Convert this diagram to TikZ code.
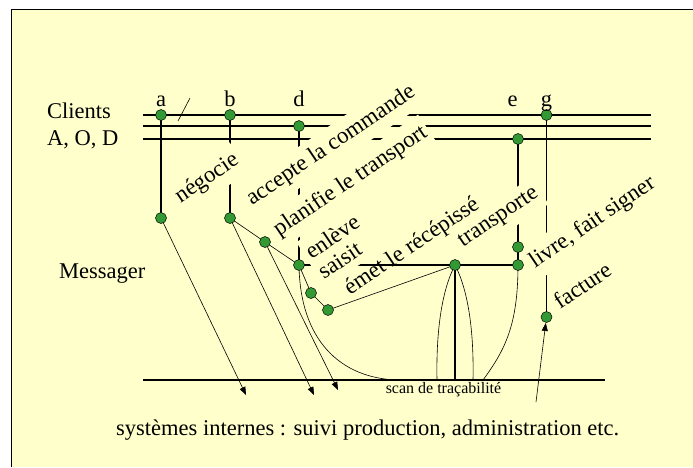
\documentclass[tikz,border=0pt]{standalone}
\usepackage{fontspec}
\setmainfont{Liberation Serif}
\usetikzlibrary{arrows.meta}
\definecolor{bgyellow}{HTML}{FFFFCC}
\definecolor{dotgreen}{HTML}{339933}
\tikzset{
    dot/.style={circle, draw=black, line width=0.5pt, fill=dotgreen, minimum size=11pt, inner sep=0pt},
    msg/.style={anchor=base west, rotate=34, inner xsep=3pt, inner ysep=7pt, font=\fontsize{23}{26}\selectfont},
    msgfill/.style={msg, fill=bgyellow},
    thickline/.style={line width=1.1pt},
    thinline/.style={line width=0.6pt},
}

\begin{document}
\begin{tikzpicture}[x=1pt, y=-1pt, font=\fontsize{22.5}{26}\selectfont, >={Triangle[length=8pt,width=6pt]}]
        \useasboundingbox (0,0) rectangle (693,467);
        %background and frame
        \fill[bgyellow] (11,9) rectangle (693,467);
        \draw[line width=1pt] (11,467) -- (11,9) -- (693,9);
        %points of the clients and of the messager
        \coordinate (ca) at (161,115);
        \coordinate (cb) at (230,115);
        \coordinate (cd) at (299,126);
        \coordinate (ce) at (518,139);
        \coordinate (cg) at (546.5,115);
        \coordinate (ma) at (161,218);
        \coordinate (mb) at (230,218);
        \coordinate (mplan) at (265,242);
        \coordinate (md) at (299,265);
        \coordinate (msaisit) at (311,293);
        \coordinate (memet) at (328,310);
        \coordinate (mhub) at (455,265);
        \coordinate (mtrans) at (518,247);
        \coordinate (mlivre) at (518,265);
        \coordinate (mfact) at (546.5,317);
        %free ends on the scan line
        \coordinate (sd) at (397,380);
        \coordinate (sl) at (437,380);
        \coordinate (sm) at (455,380);
        \coordinate (sr) at (473,380);
        \coordinate (se) at (483,380);
        \coordinate (ta) at (246,395);
        \coordinate (tb) at (314,395);
        \coordinate (tplan) at (338,390);
        \coordinate (tfact) at (536,402);
        %client lines
        \draw[thickline] (143,115) -- (651,115);
        \draw[thickline] (143,126) -- (651,126);
        \draw[thickline] (143,139) -- (651,139);
        \draw[thinline] (178,121) -- (190,98);
        %vertical lines
        \draw[thickline] (ca) -- (ma);
        \draw[thickline] (cb) -- (mb);
        \draw[thickline] (cd) -- (md);
        \draw[thickline] (ce) -- (mtrans) -- (mlivre);
        \draw[thickline] (cg) -- (mfact);
        \draw[thickline] (md) -- (mhub) -- (mlivre);
        %messager steps
        \draw[thinline] (mb) -- (mplan) -- (md) -- (msaisit) -- (memet) -- (mhub);
        %scan line
        \draw[thickline] (143,380) -- (605,380);
        \draw[thickline] (mhub) -- (sm);
        \draw[thinline] (md) .. controls (300,340) and (340,378) .. (sd);
        \draw[thinline] (mhub) .. controls (442,290) and (436,330) .. (sl);
        \draw[thinline] (mhub) .. controls (468,290) and (474,330) .. (sr);
        \draw[thinline] (mlivre) .. controls (518,325) and (505,350) .. (se);
        %arrows to the internal systems
        \draw[thinline, ->] (ma) -- (ta);
        \draw[thinline, ->] (mb) -- (tb);
        \draw[thinline, ->] (mplan) -- (tplan);
        \draw[thinline, ->, shorten >=6pt] (tfact) -- (mfact);
        %step labels
        \node[msgfill] (lneg) at (178,205) {négocie};
        \node[msgfill] (lacc) at (249.5,207.5) {accepte la commande};
        \node[msgfill] (lplan) at (276.5,238) {planifie le transport};
        \node[msgfill] (lenl) at (309,261.5) {enlève};
        \node[msgfill] (lsai) at (321.5,281.5) {saisit};
        \node[msg] (lemet) at (347.5,297) {émet le récépissé};
        \node[msgfill] (ltrans) at (460.5,249) {transporte};
        \node[msgfill] (llivre) at (532.5,270) {livre, fait signer};
        \node[msg] (lfact) at (557.5,311.5) {facture};
        %dots
        \foreach \p in {ca,cb,cd,ce,cg,ma,mb,mplan,md,msaisit,memet,mhub,mtrans,mlivre,mfact}
            \node[dot] at (\p) {};
        %client letters
        \node[anchor=base] (la) at (161,106) {a};
        \node[anchor=base] (lb) at (230,106) {b};
        \node[anchor=base] (ld) at (299,106) {d};
        \node[anchor=base] (le) at (512.5,106) {e};
        \node[anchor=base] (lg) at (546.5,106) {g};
        %row names
        \node[anchor=base west, inner sep=0pt] (clients) at (47,118) {Clients};
        \node[anchor=base west, inner sep=0pt] (aod) at (47,145) {A, O, D};
        \node[anchor=base west, inner sep=0pt] (messager) at (59,278) {Messager};
        %scan and internal systems
        \node[anchor=base, inner sep=0pt, font=\fontsize{16}{18}\selectfont] (scan) at (443.5,393) {scan de traçabilité};
        \node[anchor=base west, inner sep=0pt] (sys) at (116,435) {systèmes internes : suivi production, administration etc.};
    \end{tikzpicture}
\end{document}
